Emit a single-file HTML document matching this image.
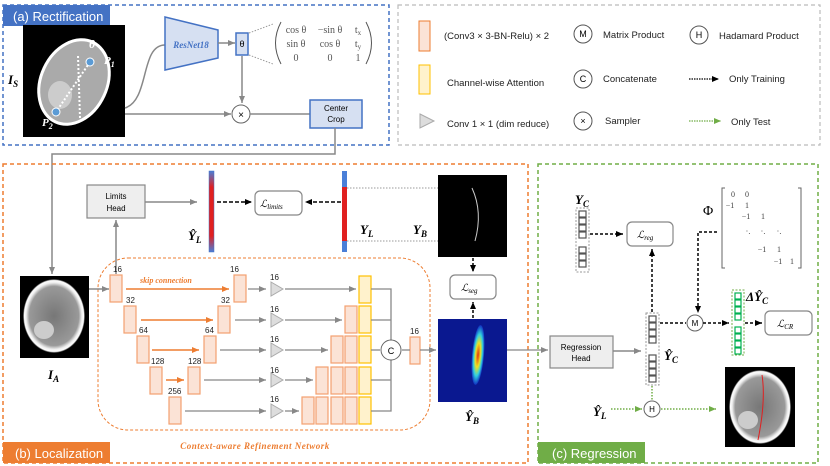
<!DOCTYPE html>
<html><head><meta charset="utf-8"><style>
body{margin:0;background:#fff}
svg{display:block;font-family:"Liberation Sans",sans-serif}
.it{font-family:"Liberation Serif",serif;font-style:italic;font-weight:bold}
</style></head><body>
<svg width="830" height="466" viewBox="0 0 830 466" xmlns="http://www.w3.org/2000/svg">
<defs>
<marker id="ag" markerWidth="8" markerHeight="8" refX="7" refY="4" orient="auto" markerUnits="userSpaceOnUse"><path d="M0,1 L7,4 L0,7z" fill="#888"/></marker>
<marker id="ak" markerWidth="8" markerHeight="8" refX="7" refY="4" orient="auto" markerUnits="userSpaceOnUse"><path d="M0,1 L7,4 L0,7z" fill="#000"/></marker>
<marker id="ao" markerWidth="8" markerHeight="8" refX="7" refY="4" orient="auto" markerUnits="userSpaceOnUse"><path d="M0,1 L7,4 L0,7z" fill="#ed7d31"/></marker>
<marker id="agr" markerWidth="8" markerHeight="8" refX="7" refY="4" orient="auto" markerUnits="userSpaceOnUse"><path d="M0,1 L7,4 L0,7z" fill="#70ad47"/></marker>
<linearGradient id="bar" x1="0" y1="0" x2="0" y2="1"><stop offset="0" stop-color="#4a7fd8"/><stop offset="0.2" stop-color="#e02020"/><stop offset="0.8" stop-color="#e02020"/><stop offset="1" stop-color="#4a7fd8"/></linearGradient>
<radialGradient id="hm" cx="0.5" cy="0.5" r="0.5"><stop offset="0" stop-color="#e03010"/><stop offset="0.4" stop-color="#f0e020"/><stop offset="0.7" stop-color="#30d0e0"/><stop offset="1" stop-color="#1030c0"/></radialGradient>
<radialGradient id="brain" cx="0.5" cy="0.5" r="0.5"><stop offset="0" stop-color="#777"/><stop offset="0.8" stop-color="#999"/><stop offset="0.9" stop-color="#eee"/><stop offset="0.96" stop-color="#fff"/><stop offset="1" stop-color="#000"/></radialGradient>
</defs>

<!-- Panel a -->
<rect x="3" y="5" width="386" height="140" fill="none" stroke="#4472c4" stroke-width="1.5" stroke-dasharray="4,3"/>
<rect x="3" y="5" width="107" height="21" fill="#4472c4"/>
<text x="13" y="21" font-size="13" fill="#fff">(a) Rectification</text>
<rect x="23" y="25" width="102" height="112" fill="#000"/>
<ellipse cx="74" cy="82" rx="33" ry="44" transform="rotate(25 74 82)" fill="#aaa" stroke="#fff" stroke-width="3"/>
<ellipse cx="60" cy="95" rx="12" ry="14" fill="#ccc"/>
<line x1="90" y1="62" x2="56" y2="112" stroke="#fff" stroke-width="2" stroke-dasharray="2,2"/>
<line x1="78" y1="56" x2="80" y2="118" stroke="#fff" stroke-width="2" stroke-dasharray="2,2"/>
<circle cx="90" cy="62" r="4" fill="#5b9bd5" stroke="#fff"/>
<circle cx="56" cy="112" r="4" fill="#5b9bd5" stroke="#fff"/>
<text x="89" y="48" class="it" font-size="12" fill="#fff">θ</text>
<text x="104" y="64" class="it" font-size="11" fill="#fff">P<tspan font-size="8" dy="3">1</tspan></text>
<text x="42" y="126" class="it" font-size="11" fill="#fff">P<tspan font-size="8" dy="3">2</tspan></text>
<text x="8" y="84" class="it" font-size="13">I<tspan font-size="9" dy="3">S</tspan></text>
<path d="M125,108 C150,100 140,45 165,45" fill="none" stroke="#888" stroke-width="1.5"/>
<polygon points="165,17 218,30 218,58 165,70" fill="#d6e0f2" stroke="#4472c4" stroke-width="1.5"/>
<text x="191" y="48" text-anchor="middle" font-size="9" class="it" fill="#4472c4">ResNet18</text>
<line x1="218" y1="43" x2="235" y2="43" stroke="#888" stroke-width="1.5" marker-end="url(#ag)"/>
<rect x="236" y="33" width="12" height="22" fill="#d6e0f2" stroke="#4472c4" stroke-width="1.5"/>
<text x="242" y="47" text-anchor="middle" font-size="9">θ</text>
<line x1="249" y1="33" x2="273" y2="24" stroke="#999" stroke-dasharray="1.5,1.5"/>
<line x1="249" y1="55" x2="273" y2="64" stroke="#999" stroke-dasharray="1.5,1.5"/>
<path d="M281,22 Q270,43 281,64" fill="none" stroke="#555" stroke-width="1"/>
<path d="M366,22 Q377,43 366,64" fill="none" stroke="#555" stroke-width="1"/>
<g font-family="Liberation Serif,serif" font-size="10" fill="#555" text-anchor="middle">
<text x="296" y="33">cos θ</text><text x="330" y="33">−sin θ</text><text x="358" y="33">t<tspan font-size="7" dy="2">x</tspan></text>
<text x="296" y="47">sin θ</text><text x="330" y="47">cos θ</text><text x="358" y="47">t<tspan font-size="7" dy="2">y</tspan></text>
<text x="296" y="61">0</text><text x="330" y="61">0</text><text x="358" y="61">1</text>
</g>
<line x1="242" y1="56" x2="242" y2="103" stroke="#888" stroke-width="1.5" marker-end="url(#ag)"/>
<line x1="125" y1="114" x2="231" y2="114" stroke="#888" stroke-width="1.5" marker-end="url(#ag)"/>
<circle cx="241" cy="114" r="9" fill="#fff" stroke="#666"/>
<text x="241" y="118" text-anchor="middle" font-size="10">×</text>
<line x1="250" y1="114" x2="310" y2="114" stroke="#888" stroke-width="1.5"/>
<rect x="310" y="100" width="52" height="28" fill="#d6e0f2" stroke="#4472c4" stroke-width="1.5"/>
<text x="336" y="111" text-anchor="middle" font-size="8">Center</text>
<text x="336" y="122" text-anchor="middle" font-size="8">Crop</text>
<polyline points="335,128 335,154 52,154 52,274" fill="none" stroke="#888" stroke-width="1.5" marker-end="url(#ag)"/>

<!-- Legend -->
<rect x="398" y="5" width="422" height="140" fill="none" stroke="#bbb" stroke-width="1.2" stroke-dasharray="4,3"/>
<rect x="419" y="21" width="11" height="30" fill="#fbe3d6" stroke="#ed7d31"/>
<rect x="419" y="65" width="11" height="29" fill="#fff2cc" stroke="#ffc000"/>
<polygon points="420,114 434,121 420,128" fill="#ddd" stroke="#aaa"/>
<g font-size="9.5" fill="#222">
<text x="444" y="39">(Conv3 × 3-BN-Relu) × 2</text>
<text x="447" y="86">Channel-wise Attention</text>
<text x="447" y="127">Conv 1 × 1 (dim reduce)</text>
<text x="603" y="38">Matrix Product</text>
<text x="603" y="82">Concatenate</text>
<text x="605" y="124">Sampler</text>
<text x="719" y="39">Hadamard Product</text>
<text x="729" y="82">Only Training</text>
<text x="731" y="125">Only Test</text>
</g>
<g fill="#fff" stroke="#555"><circle cx="583" cy="34" r="9"/><circle cx="583" cy="79" r="9"/><circle cx="583" cy="121" r="9"/><circle cx="699" cy="35" r="9"/></g>
<g font-size="9" text-anchor="middle"><text x="583" y="37">M</text><text x="583" y="82">C</text><text x="583" y="124">×</text><text x="699" y="38">H</text></g>
<line x1="689" y1="79" x2="719" y2="79" stroke="#000" stroke-width="1.2" stroke-dasharray="1.5,1" marker-end="url(#ak)"/>
<line x1="689" y1="121" x2="721" y2="121" stroke="#70ad47" stroke-width="1.2" stroke-dasharray="1.5,1" marker-end="url(#agr)"/>

<!-- Panel b -->
<rect x="3" y="164" width="525" height="299" fill="none" stroke="#ed7d31" stroke-width="1.5" stroke-dasharray="4,3"/>
<rect x="3" y="442" width="107" height="21" fill="#ed7d31"/>
<text x="15" y="458" font-size="13" fill="#fff">(b) Localization</text>
<rect x="98" y="258" width="332" height="172" rx="30" fill="none" stroke="#ed7d31" stroke-dasharray="3,2"/>
<text x="255" y="449" text-anchor="middle" font-size="9" class="it" fill="#ed7d31" letter-spacing="0.5">Context-aware Refinement Network</text>
<rect x="87" y="185" width="58" height="33" fill="#eee" stroke="#888" stroke-width="1.2"/>
<text x="116" y="199" text-anchor="middle" font-size="8">Limits</text>
<text x="116" y="211" text-anchor="middle" font-size="8">Head</text>
<line x1="116" y1="274" x2="116" y2="220" stroke="#888" stroke-width="1.5" marker-end="url(#ag)"/>
<line x1="145" y1="202" x2="197" y2="202" stroke="#888" stroke-width="1.5" marker-end="url(#ag)"/>
<rect x="209" y="171" width="5" height="81" fill="url(#bar)" stroke="#4472c4" stroke-width="0.5"/>
<text x="188" y="240" class="it" font-size="13">Ŷ<tspan font-size="9" dy="3">L</tspan></text>
<line x1="217" y1="202" x2="252" y2="202" stroke="#000" stroke-width="1.5" stroke-dasharray="4,2" marker-end="url(#ak)"/>
<rect x="255" y="191" width="47" height="24" rx="5" fill="#fff" stroke="#888" stroke-width="1.2"/>
<text x="260" y="207" font-size="10" font-family="Liberation Serif,serif" font-style="italic">ℒ<tspan font-size="7" dy="2">limits</tspan></text>
<line x1="341" y1="202" x2="305" y2="202" stroke="#000" stroke-width="1.5" stroke-dasharray="4,2" marker-end="url(#ak)"/>
<rect x="342" y="171" width="5" height="81" fill="#4a7fd8"/>
<rect x="342" y="187" width="5" height="54" fill="#e02020"/>
<text x="360" y="234" class="it" font-size="13">Y<tspan font-size="9" dy="3">L</tspan></text>
<text x="413" y="234" class="it" font-size="13">Y<tspan font-size="9" dy="3">B</tspan></text>
<line x1="347" y1="188" x2="474" y2="188" stroke="#999" stroke-dasharray="1.5,1.5"/>
<line x1="347" y1="241" x2="474" y2="241" stroke="#999" stroke-dasharray="1.5,1.5"/>
<rect x="438" y="175" width="69" height="82" fill="#000"/>
<path d="M472,188 Q483,212 475,241" fill="none" stroke="#ccc" stroke-width="1"/>
<line x1="473" y1="258" x2="473" y2="272" stroke="#000" stroke-width="1.5" stroke-dasharray="3,2" marker-end="url(#ak)"/>
<rect x="450" y="275" width="46" height="24" rx="5" fill="#fff" stroke="#888" stroke-width="1.2"/>
<text x="461" y="291" font-size="10" font-family="Liberation Serif,serif" font-style="italic">ℒ<tspan font-size="7" dy="2">seg</tspan></text>
<line x1="473" y1="318" x2="473" y2="302" stroke="#000" stroke-width="1.5" stroke-dasharray="3,2" marker-end="url(#ak)"/>
<rect x="438" y="319" width="69" height="83" fill="#0a1890"/>
<ellipse cx="478" cy="355" rx="6" ry="30" fill="url(#hm)" transform="rotate(5 478 355)"/>
<text x="465" y="421" class="it" font-size="13">Ŷ<tspan font-size="9" dy="3">B</tspan></text>

<rect x="20" y="276" width="69" height="82" fill="#000"/>
<ellipse cx="54" cy="316" rx="31" ry="37" fill="url(#brain)"/>
<ellipse cx="44" cy="330" rx="10" ry="9" fill="#ccc"/>
<text x="48" y="379" class="it" font-size="13">I<tspan font-size="9" dy="3">A</tspan></text>
<line x1="89" y1="289" x2="109" y2="289" stroke="#888" stroke-width="1.5" marker-end="url(#ag)"/>

<g fill="#fbe3d6" stroke="#f4a070" stroke-width="1.2">
<rect x="110" y="275" width="12" height="27"/><rect x="124" y="306" width="12" height="27"/><rect x="137" y="336" width="12" height="27"/><rect x="150" y="367" width="12" height="27"/><rect x="169" y="397" width="12" height="27"/>
<rect x="234" y="275" width="12" height="27"/><rect x="218" y="306" width="12" height="27"/><rect x="204" y="336" width="12" height="27"/><rect x="188" y="367" width="12" height="27"/>
<rect x="345" y="306" width="12" height="27"/>
<rect x="331" y="336" width="12" height="27"/><rect x="345" y="336" width="12" height="27"/>
<rect x="316" y="367" width="12" height="27"/><rect x="331" y="367" width="12" height="27"/><rect x="345" y="367" width="12" height="27"/>
<rect x="302" y="397" width="12" height="27"/><rect x="316" y="397" width="12" height="27"/><rect x="331" y="397" width="12" height="27"/><rect x="345" y="397" width="12" height="27"/>
<rect x="410" y="337" width="10" height="27"/>
</g>
<g fill="#fff2cc" stroke="#ffc000" stroke-width="1.2">
<rect x="359" y="276" width="12" height="27"/><rect x="359" y="306" width="12" height="27"/><rect x="359" y="336" width="12" height="27"/><rect x="359" y="367" width="12" height="27"/><rect x="359" y="397" width="12" height="27"/>
</g>
<g font-size="8" fill="#222">
<text x="113" y="272">16</text><text x="126" y="303">32</text><text x="139" y="333">64</text><text x="151" y="364">128</text><text x="168" y="394">256</text>
<text x="230" y="272">16</text><text x="221" y="303">32</text><text x="205" y="333">64</text><text x="188" y="364">128</text>
<text x="410" y="334">16</text>
<text x="270" y="280">16</text><text x="270" y="312">16</text><text x="270" y="342">16</text><text x="270" y="373">16</text><text x="270" y="402">16</text>
</g>
<text x="140" y="283" class="it" font-size="8" fill="#ed7d31">skip connection</text>
<g stroke="#ed7d31" stroke-width="1.5">
<line x1="126" y1="289" x2="229" y2="289" marker-end="url(#ao)"/>
<line x1="141" y1="320" x2="213" y2="320" marker-end="url(#ao)"/>
<line x1="152" y1="350" x2="199" y2="350" marker-end="url(#ao)"/>
<line x1="166" y1="380" x2="184" y2="380" marker-end="url(#ao)"/>
</g>
<g stroke="#888" stroke-width="1.3">
<line x1="248" y1="289" x2="266" y2="289" marker-end="url(#ag)"/>
<line x1="235" y1="320" x2="266" y2="320" marker-end="url(#ag)"/>
<line x1="220" y1="350" x2="266" y2="350" marker-end="url(#ag)"/>
<line x1="204" y1="380" x2="266" y2="380" marker-end="url(#ag)"/>
<line x1="185" y1="411" x2="266" y2="411" marker-end="url(#ag)"/>
<line x1="285" y1="289" x2="356" y2="289" marker-end="url(#ag)"/>
<line x1="285" y1="320" x2="342" y2="320" marker-end="url(#ag)"/>
<line x1="285" y1="350" x2="328" y2="350" marker-end="url(#ag)"/>
<line x1="285" y1="380" x2="313" y2="380" marker-end="url(#ag)"/>
<line x1="285" y1="411" x2="299" y2="411" marker-end="url(#ag)"/>
<polyline points="371,289 391,289 391,411 371,411" fill="none"/>
<line x1="371" y1="320" x2="391" y2="320"/><line x1="371" y1="380" x2="391" y2="380"/>
<line x1="371" y1="350" x2="380" y2="350"/>
<line x1="402" y1="350" x2="410" y2="350"/>
<line x1="420" y1="350" x2="436" y2="350" marker-end="url(#ag)"/>
<line x1="507" y1="350" x2="548" y2="350" marker-end="url(#ag)"/>
</g>
<g fill="#ddd" stroke="#aaa">
<polygon points="271,282 283,289 271,296"/><polygon points="271,313 283,320 271,327"/><polygon points="271,343 283,350 271,357"/><polygon points="271,373 283,380 271,387"/><polygon points="271,404 283,411 271,418"/>
</g>
<circle cx="391" cy="350" r="10" fill="#fff" stroke="#666"/>
<text x="391" y="354" text-anchor="middle" font-size="9">C</text>

<!-- Panel c -->
<rect x="538" y="164" width="280" height="299" fill="none" stroke="#70ad47" stroke-width="1.5" stroke-dasharray="4,3"/>
<rect x="538" y="442" width="107" height="21" fill="#70ad47"/>
<text x="552" y="458" font-size="13" fill="#fff">(c) Regression</text>
<rect x="550" y="336" width="63" height="32" fill="#eee" stroke="#888" stroke-width="1.2"/>
<text x="581" y="350" text-anchor="middle" font-size="8">Regression</text>
<text x="581" y="361" text-anchor="middle" font-size="8">Head</text>
<line x1="613" y1="351" x2="641" y2="351" stroke="#888" stroke-width="1.5" marker-end="url(#ag)"/>
<rect x="576" y="208" width="13" height="64" fill="none" stroke="#999" stroke-dasharray="2,1.5"/>
<g fill="#fff" stroke="#555" stroke-width="1.2">
<rect x="579" y="211" width="7" height="6"/><rect x="579" y="218" width="7" height="6"/><rect x="579" y="225" width="7" height="6"/><rect x="579" y="232" width="7" height="6"/>
<rect x="579" y="247" width="7" height="6"/><rect x="579" y="254" width="7" height="6"/><rect x="579" y="261" width="7" height="6"/>
<rect x="649" y="316" width="7" height="6"/><rect x="649" y="323" width="7" height="6"/><rect x="649" y="330" width="7" height="6"/><rect x="649" y="337" width="7" height="6"/>
<rect x="649" y="355" width="7" height="6"/><rect x="649" y="362" width="7" height="6"/><rect x="649" y="369" width="7" height="6"/><rect x="649" y="376" width="7" height="6"/>
</g>
<rect x="646" y="313" width="13" height="72" fill="none" stroke="#999" stroke-dasharray="2,1.5"/>
<text x="575" y="204" class="it" font-size="13">Y<tspan font-size="9" dy="3">C</tspan></text>
<text x="664" y="360" class="it" font-size="13">Ŷ<tspan font-size="9" dy="3">C</tspan></text>
<line x1="590" y1="234" x2="623" y2="234" stroke="#000" stroke-width="1.5" stroke-dasharray="3,2" marker-end="url(#ak)"/>
<rect x="627" y="222" width="46" height="24" rx="5" fill="#fff" stroke="#888" stroke-width="1.2"/>
<text x="637" y="238" font-size="10" font-family="Liberation Serif,serif" font-style="italic">ℒ<tspan font-size="7" dy="2">reg</tspan></text>
<line x1="652" y1="312" x2="652" y2="249" stroke="#000" stroke-width="1.5" stroke-dasharray="3,2" marker-end="url(#ak)"/>
<line x1="660" y1="323" x2="686" y2="323" stroke="#000" stroke-width="1.5" stroke-dasharray="3,2"/>
<circle cx="695" cy="323" r="8" fill="#fff" stroke="#666"/>
<text x="695" y="326" text-anchor="middle" font-size="8">M</text>
<polyline points="717,232 698,232 698,313" fill="none" stroke="#000" stroke-width="1.5" stroke-dasharray="3,2" marker-end="url(#ak)"/>
<line x1="703" y1="323" x2="729" y2="323" stroke="#000" stroke-width="1.5" stroke-dasharray="3,2" marker-end="url(#ak)"/>
<text x="703" y="215" font-size="14" font-family="Liberation Serif,serif">Φ</text>
<path d="M725,188 h-3 v80 h3 M798,188 h3 v80 h-3" fill="none" stroke="#666"/>
<g font-size="8" font-family="Liberation Serif,serif" fill="#444" text-anchor="middle">
<text x="733" y="197">0</text><text x="747" y="197">0</text>
<text x="730" y="208">−1</text><text x="747" y="208">1</text>
<text x="746" y="219">−1</text><text x="763" y="219">1</text>
<text x="748" y="234">·.</text><text x="763" y="234">·.</text><text x="779" y="234">·.</text>
<text x="762" y="252">−1</text><text x="779" y="252">1</text>
<text x="778" y="264">−1</text><text x="792" y="264">1</text>
</g>
<rect x="732" y="290" width="12" height="65" fill="none" stroke="#70ad47" stroke-dasharray="2,1.5"/>
<g fill="#fff" stroke="#00b050" stroke-width="1.2">
<rect x="735" y="293" width="6" height="6"/><rect x="735" y="300" width="6" height="6"/><rect x="735" y="307" width="6" height="6"/><rect x="735" y="314" width="6" height="6"/>
<rect x="735" y="327" width="6" height="6"/><rect x="735" y="334" width="6" height="6"/><rect x="735" y="341" width="6" height="6"/><rect x="735" y="348" width="6" height="6"/>
</g>
<text x="746" y="301" class="it" font-size="13">ΔŶ<tspan font-size="9" dy="3">C</tspan></text>
<line x1="745" y1="323" x2="762" y2="323" stroke="#000" stroke-width="1.5" stroke-dasharray="3,2" marker-end="url(#ak)"/>
<rect x="765" y="311" width="47" height="24" rx="5" fill="#fff" stroke="#888" stroke-width="1.2"/>
<text x="777" y="327" font-size="10" font-family="Liberation Serif,serif" font-style="italic">ℒ<tspan font-size="7" dy="2">CR</tspan></text>
<line x1="652" y1="386" x2="652" y2="401" stroke="#70ad47" stroke-width="1.5" stroke-dasharray="1.5,1.5"/>
<text x="593" y="416" class="it" font-size="13">Ŷ<tspan font-size="9" dy="3">L</tspan></text>
<line x1="611" y1="409" x2="642" y2="409" stroke="#70ad47" stroke-width="1.5" stroke-dasharray="1.5,1.5" marker-end="url(#agr)"/>
<circle cx="652" cy="409" r="8" fill="#fff" stroke="#666"/>
<text x="652" y="412" text-anchor="middle" font-size="8">H</text>
<line x1="661" y1="409" x2="716" y2="409" stroke="#70ad47" stroke-width="1.5" stroke-dasharray="1.5,1.5" marker-end="url(#agr)"/>
<rect x="725" y="367" width="70" height="80" fill="#000"/>
<ellipse cx="760" cy="407" rx="31" ry="37" fill="url(#brain)"/>
<ellipse cx="748" cy="420" rx="10" ry="9" fill="#ccc"/>
<path d="M762,375 Q766,400 758,440" fill="none" stroke="#e02020" stroke-width="1"/>
</svg>
</body></html>
